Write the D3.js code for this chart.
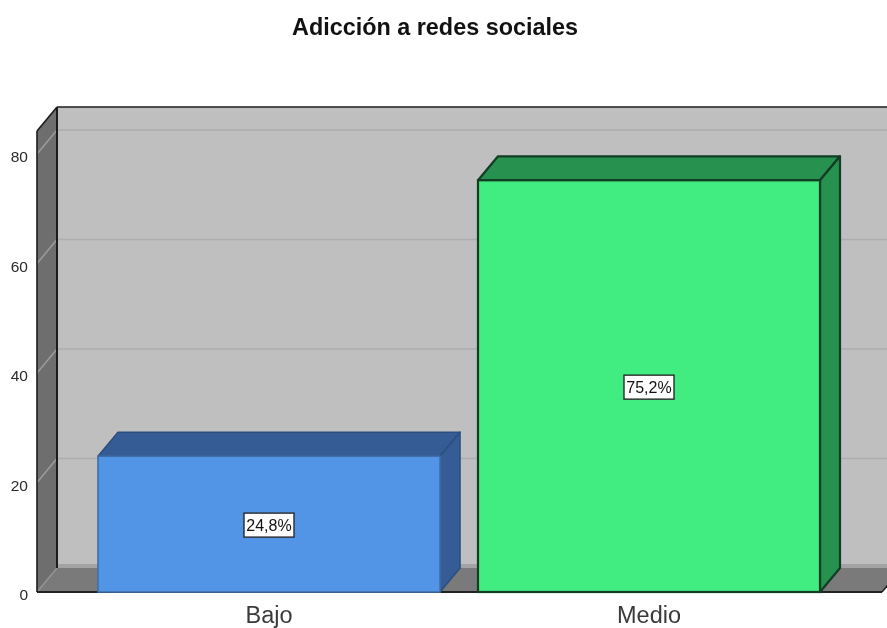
<!DOCTYPE html>
<html lang="es">
<head>
    <meta charset="UTF-8">
    <title>Adicción a redes sociales</title>
    <script src="https://cdn.jsdelivr.net/npm/d3@7"></script>
    <style>
        html,body{margin:0;padding:0;background:#fff;overflow:hidden}
        text{font-family:"Liberation Sans",Arial,sans-serif}
    </style>
</head>
<body>
    <script>
        var categories=["Bajo","Medio"];
        var values=[24.8,75.2];
        var barColors=["#5294e6","#41ec80"];
        var sideColors=["#355c94","#279150"];
        var yTicks=[0,20,40,60,80];
        var titleText="Adicción a redes sociales";

        var width=887,height=628;
        var depthX=20,depthY=-24;
        var plotLeft=37,plotRight=882,plotBottom=592,plotTop=131;

        var svg=d3.select("body").append("svg").attr("width",width).attr("height",height)
            .style("display","block").style("filter","blur(0.4px)");

        var xScale=d3.scaleBand().domain(categories).range([79,839]).paddingInner(0.1).paddingOuter(0.05);
        var yScale=d3.scaleLinear().domain([0,80]).range([plotBottom,154]);
        var comma=d3.formatLocale({decimal:",",thousands:".",grouping:[3],currency:["","%"]}).format(".1f");

        function poly(pts,fill,stroke,sw){
            return svg.append("polygon")
                .attr("points",pts.map(function(p){return p.join(",")}).join(" "))
                .attr("fill",fill)
                .attr("stroke",stroke||"none")
                .attr("stroke-width",sw||0)
                .attr("stroke-linejoin","round");
        }
        function line(x1,y1,x2,y2,stroke,sw){
            return svg.append("line").attr("x1",x1).attr("y1",y1).attr("x2",x2).attr("y2",y2)
                .attr("stroke",stroke).attr("stroke-width",sw);
        }

        //back wall, floor, side wall
        var backL=plotLeft+depthX,backR=plotRight+depthX,backT=plotTop+depthY,backB=plotBottom+depthY;
        poly([[backL,backT],[backR,backT],[backR,backB],[backL,backB]],"#bfbfbf");
        svg.append("rect").attr("x",backL).attr("y",backB-4).attr("width",backR-backL).attr("height",4).attr("fill","#a3a3a3");
        poly([[plotLeft,plotBottom],[plotRight,plotBottom],[backR,backB],[backL,backB]],"#7a7a7a");
        poly([[plotLeft,plotTop],[backL,backT],[backL,backB],[plotLeft,plotBottom]],"#6e6e6e");

        //grid lines run across the wall and down the side
        yTicks.forEach(function(t){
            var y=yScale(t);
            if(t>0) line(backL,y+depthY,backR,y+depthY,"#adadad",1.5);
            line(plotLeft,y,backL,y+depthY,t>0?"#9c9c9c":"#949494",1.5);
        });

        //frame lines
        line(backL,backT,backR,backT,"#1c1c1c",1.6);
        line(backL,backT,backL,backB,"#1c1c1c",2);
        line(plotLeft,plotTop,backL,backT,"#1c1c1c",1.6);
        line(plotLeft,plotTop,plotLeft,plotBottom,"#1c1c1c",1.6);

        //front floor edge, the bars sit on top of it
        line(plotLeft,plotBottom,plotRight,plotBottom,"#222",1.8);
        line(plotRight,plotBottom,backR,backB,"#222",1.6);

        //bars
        categories.forEach(function(c,i){
            var x0=xScale(c),x1=x0+xScale.bandwidth(),y0=yScale(values[i]);
            var sw=i?2.2:1.6;
            poly([[x0,y0],[x0+depthX,y0+depthY],[x1+depthX,y0+depthY],[x1,y0]],sideColors[i],i?"#123d24":"#2c4f80",sw);
            poly([[x1,y0],[x1+depthX,y0+depthY],[x1+depthX,plotBottom+depthY],[x1,plotBottom]],sideColors[i],i?"#123d24":"#2c4f80",sw);
            svg.append("rect").attr("x",x0).attr("y",y0).attr("width",xScale.bandwidth()).attr("height",plotBottom-y0)
                .attr("fill",barColors[i]).attr("stroke",i?"#123d24":"#3f6ea8").attr("stroke-width",sw);
        });

        //value labels
        categories.forEach(function(c,i){
            var cx=xScale(c)+xScale.bandwidth()/2,cy=(yScale(values[i])+plotBottom)/2+1;
            svg.append("rect").attr("x",cx-25).attr("y",cy-12).attr("width",50).attr("height",24)
                .attr("fill","#fff").attr("stroke","#2a2a2a").attr("stroke-width",1.4);
            svg.append("text").attr("x",cx).attr("y",cy+5.5).attr("text-anchor","middle")
                .attr("font-size",16).attr("fill","#111").text(comma(values[i])+"%");
        });

        //axes
        var yAxis=d3.axisLeft(yScale).tickValues(yTicks).tickSize(0).tickPadding(9).tickFormat(d3.format("d"));
        var yG=svg.append("g").attr("transform","translate("+plotLeft+",3)").call(yAxis);
        yG.select(".domain").remove();
        yG.selectAll("text").attr("font-size",15.5).attr("fill","#2a2a2a").style("font-family",'"Liberation Sans",Arial,sans-serif');

        var xAxis=d3.axisBottom(xScale).tickSize(0).tickPadding(14);
        var xG=svg.append("g").attr("transform","translate(0,"+plotBottom+")").call(xAxis);
        xG.select(".domain").remove();
        xG.selectAll("text").attr("font-size",23.5).attr("fill","#3a3a3a").style("font-family",'"Liberation Sans",Arial,sans-serif');

        svg.append("text").attr("x",435).attr("y",34.5).attr("text-anchor","middle")
            .attr("font-size",23.4).attr("font-weight","bold").attr("fill","#111").text(titleText);
    </script>
</body>
</html>
